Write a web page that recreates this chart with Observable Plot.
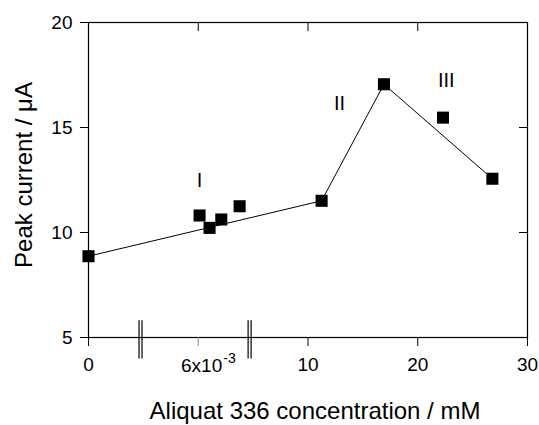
<!DOCTYPE html>
<html>
<head>
<meta charset="utf-8">
<script src="https://cdn.jsdelivr.net/npm/d3@7"></script>
<script src="https://cdn.jsdelivr.net/npm/@observablehq/plot@0.6"></script>
<style>
  html, body { margin: 0; padding: 0; background: #fff; }
</style>
</head>
<body>
<div id="chart"></div>
<script>
// Displayed x positions (broken axis: "0" at -10, 6x10^-3 region around 0, linear from ~5 on)
const xPos    = [-10, 0.12, 1.03, 2.1, 3.77, 11.24, 16.92, 22.3, 26.8];
const current = [8.87, 10.81, 10.22, 10.62, 11.25, 11.51, 17.06, 15.47, 12.56];
const onLine  = [true, false, false, false, false, true, true, false, true];

const xTickPos    = [-10, 10, 20, 30];
const xTickLabels = ["0", "10", "20", "30"];
const specialTickPos = [0];
const specialTickBase = ["6x10"];
const specialTickSup  = ["-3"];
const yTicks = [5, 10, 15, 20];
const breakPos = [-5.26, 4.68];

const regionLabels = ["I", "II", "III"];
const regionX = [0.12, 12.88, 22.6];
const regionY = [12.48, 16.15, 17.25];

const xTitle = "Aliquat 336 concentration / mM";
const yTitle = "Peak current / μA";

const pts = xPos.map((x, i) => ({x, y: current[i], line: onLine[i]}));
const linePts = pts.filter(d => d.line);
const regions = regionLabels.map((t, i) => ({t, x: regionX[i], y: regionY[i]}));
const specials = specialTickPos.map((x, i) => ({x, base: specialTickBase[i], sup: specialTickSup[i]}));

const chart = Plot.plot({
  width: 539,
  height: 425,
  marginLeft: 88,
  marginRight: 12,
  marginTop: 22,
  marginBottom: 88,
  x: {domain: [-10, 30]},
  y: {domain: [5, 20]},
  style: {fontFamily: "'Liberation Sans', Arial, sans-serif", fontSize: "19px", background: "#fff", color: "#000"},
  marks: [
    Plot.frame({stroke: "#000", strokeWidth: 1.2}),
    Plot.axisY({ticks: yTicks, tickSize: 8, tickPadding: 8, label: null, fontSize: 19}),
    Plot.axisY({anchor: "right", ticks: [10, 15], tickSize: -9, tickFormat: () => "", label: null}),
    Plot.axisX({anchor: "top", ticks: [0, 10, 20], tickSize: -8, tickFormat: () => "", label: null}),
    Plot.axisX({ticks: xTickPos, tickSize: 9, tickPadding: 11, tickFormat: d => xTickLabels[xTickPos.indexOf(d)], label: null, fontSize: 19}),
    Plot.axisX({ticks: specialTickPos, tickSize: 9, stroke: "#888", tickFormat: () => "", label: null}),
    Plot.text(specials, {x: "x", frameAnchor: "bottom", lineAnchor: "middle", text: "base", textAnchor: "end", dx: 24, dy: 28.5, fontSize: 19}),
    Plot.text(specials, {x: "x", frameAnchor: "bottom", lineAnchor: "middle", text: "sup", textAnchor: "start", dx: 25, dy: 21, fontSize: 14}),
    Plot.ruleX(breakPos, {dx: -1.5, y1: 3.98, y2: 5.8, stroke: "#000", strokeWidth: 1.2}),
    Plot.ruleX(breakPos, {dx: 1.5, y1: 3.98, y2: 5.8, stroke: "#000", strokeWidth: 1.2}),
    Plot.line(linePts, {x: "x", y: "y", stroke: "#000", strokeWidth: 1}),
    Plot.dot(pts, {x: "x", y: "y", symbol: "square", r: 6.8, fill: "#000", stroke: "none"}),
    Plot.text(regions, {x: "x", y: "y", text: "t", fontSize: 20}),
    Plot.text([xTitle], {frameAnchor: "bottom", lineAnchor: "middle", textAnchor: "middle", dx: 7, dy: 74, fontSize: 24}),
    Plot.text([yTitle], {frameAnchor: "left", lineAnchor: "middle", textAnchor: "middle", rotate: -90, dx: -64, dy: -5, fontSize: 24})
  ]
});
document.getElementById("chart").appendChild(chart);
</script>
</body>
</html>
